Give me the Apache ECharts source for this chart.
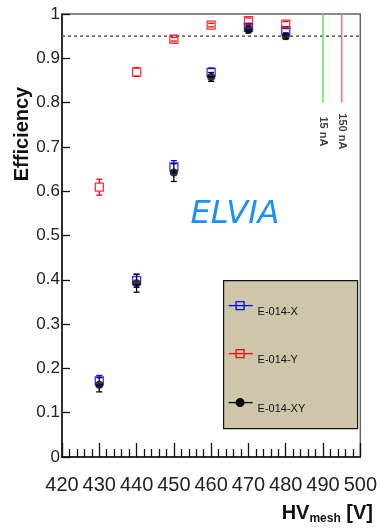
<!DOCTYPE html>
<html>
<head>
<meta charset="utf-8">
<script src="https://cdn.jsdelivr.net/npm/echarts@6/dist/echarts.min.js"></script>
<style>
  html, body { margin: 0; padding: 0; background: #fff; }
  #chart { width: 380px; height: 528px; }
</style>
</head>
<body>
<div id="chart"></div>
<script>
// Mesh voltage scan points [V]
const hvMesh = [430, 440, 450, 460, 470, 480];

// Efficiency per readout and its uncertainty
const effX  = [0.172, 0.398, 0.655, 0.868, 0.970, 0.962];
const errX  = [0.012, 0.015, 0.014, 0.010, 0.006, 0.005];
const effY  = [0.609, 0.869, 0.943, 0.975, 0.985, 0.977];
const errY  = [0.018, 0.010, 0.004, 0.004, 0.006, 0.006];
const effXY = [0.163, 0.392, 0.642, 0.858, 0.965, 0.950];
const errXY = [0.016, 0.020, 0.020, 0.010, 0.008, 0.006];

const seriesNames = ['E-014-X', 'E-014-Y', 'E-014-XY'];

// Reference level and beam-current markers
const refEfficiency = 0.95;
const currentLines = [490, 495];
const currentLabels = ['15 nA', '150 nA'];
const currentLineTop = 1.0;
const currentLineBottom = 0.8;
const currentLabelY = 0.735;

const xTicks = { min: 420, max: 500, step: 10 };
const yTicks = { min: 0, max: 1, step: 0.1 };

const FONT = '"Liberation Sans", Arial, Helvetica, sans-serif';
const LEGEND_FILL = '#cdc6aa';

function toPoints(vals, errs) {
  return hvMesh.map((h, i) => [h, vals[i], errs[i]]);
}

// Vertical error bars with end caps, leaving a gap around the marker
function errorBars(color, gap) {
  return function (params, api) {
    const x = api.value(0), y = api.value(1), e = api.value(2);
    const c = api.coord([x, y]);
    const top = api.coord([x, y + e]);
    const bot = api.coord([x, y - e]);
    const cap = 3;
    const style = { stroke: color, lineWidth: 1.3 };
    const kids = [];
    if (c[1] - gap > top[1]) {
      kids.push({ type: 'line', shape: { x1: c[0], y1: c[1] - gap, x2: top[0], y2: top[1] }, style });
    }
    if (bot[1] > c[1] + gap) {
      kids.push({ type: 'line', shape: { x1: c[0], y1: c[1] + gap, x2: bot[0], y2: bot[1] }, style });
    }
    kids.push({ type: 'line', shape: { x1: top[0] - cap, y1: top[1], x2: top[0] + cap, y2: top[1] }, style });
    kids.push({ type: 'line', shape: { x1: bot[0] - cap, y1: bot[1], x2: bot[0] + cap, y2: bot[1] }, style });
    return { type: 'group', children: kids };
  };
}

function errSeries(vals, errs, color, gap) {
  return {
    type: 'custom',
    renderItem: errorBars(color, gap),
    data: toPoints(vals, errs),
    encode: { x: 0, y: 1 },
    silent: true,
    z: 3
  };
}

function markerSeries(name, vals, color, symbol, filled) {
  return {
    name: name,
    type: 'scatter',
    symbol: symbol,
    symbolSize: 8,
    data: hvMesh.map((h, i) => [h, vals[i]]),
    itemStyle: filled
      ? { color: color }
      : { color: 'rgba(0,0,0,0)', borderColor: color, borderWidth: 1.3 },
    z: 4
  };
}

function legendEntry(y, name, color, filled) {
  const kids = [
    { type: 'line', shape: { x1: 5, y1: y, x2: 29, y2: y }, style: { stroke: color, lineWidth: 1.3 } }
  ];
  if (filled) {
    kids.push({ type: 'circle', shape: { cx: 16.5, cy: y, r: 4.5 }, style: { fill: color } });
  } else {
    kids.push({ type: 'rect', shape: { x: 12.5, y: y - 4, width: 8, height: 8 }, style: { fill: 'none', stroke: color, lineWidth: 1.3 } });
  }
  kids.push({ type: 'text', x: 34, y: y + 6, style: { text: name, fill: '#111', font: '11px ' + FONT, verticalAlign: 'middle' } });
  return kids;
}

const chart = echarts.init(document.getElementById('chart'), null, { renderer: 'canvas' });

const gridBox = { left: 62, top: 14, right: 16, bottom: 71 };

const option = {
  backgroundColor: '#ffffff',
  animation: false,
  grid: Object.assign({ show: true, borderColor: '#666', borderWidth: 1.5, backgroundColor: 'transparent' }, gridBox),
  xAxis: {
    type: 'value',
    min: xTicks.min, max: xTicks.max, interval: xTicks.step,
    axisLine: { lineStyle: { color: '#111', width: 1.5 } },
    axisTick: { inside: true, length: 14, lineStyle: { color: '#111', width: 1.3 } },
    minorTick: { show: true, splitNumber: 5, length: 8, lineStyle: { color: '#111', width: 1.3 } },
    axisLabel: { color: '#222', fontSize: 20, fontFamily: FONT, margin: 18 },
    splitLine: { show: false }
  },
  yAxis: {
    type: 'value',
    min: yTicks.min, max: yTicks.max, interval: yTicks.step,
    axisLine: { lineStyle: { color: '#111', width: 1.5 } },
    axisTick: { inside: true, length: 8, lineStyle: { color: '#111', width: 1.3 } },
    axisLabel: { color: '#222', fontSize: 17, fontFamily: FONT, margin: 2 },
    splitLine: { show: false }
  },
  series: [
    // 95% reference level
    {
      type: 'line',
      data: [[xTicks.min, refEfficiency], [xTicks.max, refEfficiency]],
      symbol: 'none',
      lineStyle: { color: '#555', width: 1.5, type: [3, 3] },
      silent: true, z: 2
    },
    // beam-current markers
    {
      type: 'line',
      data: [[currentLines[0], currentLineTop], [currentLines[0], currentLineBottom]],
      symbol: 'none',
      lineStyle: { color: '#66e066', width: 1.5 },
      silent: true, z: 2
    },
    {
      type: 'line',
      data: [[currentLines[1], currentLineTop], [currentLines[1], currentLineBottom]],
      symbol: 'none',
      lineStyle: { color: '#ff7070', width: 1.5 },
      silent: true, z: 2
    },
    {
      type: 'scatter',
      symbolSize: 0,
      data: currentLines.map((x, i) => ({ value: [x, currentLabelY], label: { formatter: currentLabels[i] } })),
      label: {
        show: true, position: 'inside', rotate: -90,
        color: '#111', fontSize: 11, fontWeight: 'bold', fontFamily: FONT
      },
      silent: true, z: 2
    },
    errSeries(effX, errX, '#0000ff', 4),
    markerSeries(seriesNames[0], effX, '#0000ff', 'rect', false),
    errSeries(effY, errY, '#ff0000', 4),
    markerSeries(seriesNames[1], effY, '#ff0000', 'rect', false),
    errSeries(effXY, errXY, '#000000', 3),
    markerSeries(seriesNames[2], effXY, '#000000', 'circle', true)
  ],
  graphic: [
    {
      type: 'text', x: 22, y: 134, rotation: Math.PI / 2,
      style: { text: 'Efficiency', fill: '#111', font: 'bold 20px ' + FONT, align: 'center', verticalAlign: 'middle' }
    },
    {
      type: 'text', x: 373, y: 525,
      style: {
        text: '{a|HV}{b|mesh}{a| [V]}', align: 'right', verticalAlign: 'bottom',
        rich: {
          a: { fontSize: 20, fontWeight: 'bold', fontFamily: FONT, fill: '#111', lineHeight: 24 },
          b: { fontSize: 12, fontWeight: 'bold', fontFamily: FONT, fill: '#111', verticalAlign: 'bottom', lineHeight: 24 }
        }
      }
    },
    {
      type: 'text', x: 235, y: 215,
      style: { text: 'ELVIA', fill: '#1a90ff', font: 'italic 32px "DejaVu Sans", sans-serif', align: 'center', verticalAlign: 'middle' }
    },
    {
      type: 'group', left: 223, top: 280,
      children: [
        { type: 'rect', shape: { x: 0, y: 0, width: 134, height: 148 }, style: { fill: LEGEND_FILL, stroke: '#111', lineWidth: 1.2 } }
      ]
        .concat(legendEntry(25, seriesNames[0], '#0000ff', false))
        .concat(legendEntry(73, seriesNames[1], '#ff0000', false))
        .concat(legendEntry(122, seriesNames[2], '#000000', true))
    }
  ]
};

chart.setOption(option);
</script>
</body>
</html>
